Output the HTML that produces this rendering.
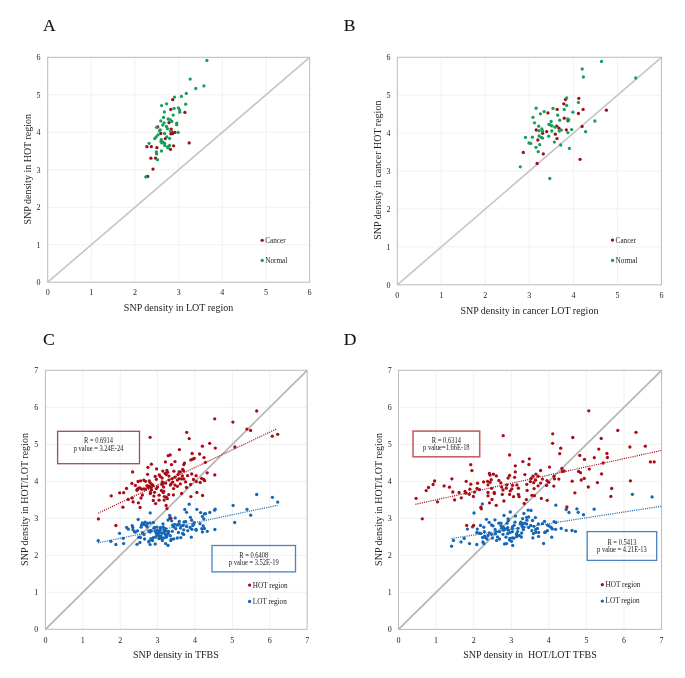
<!DOCTYPE html><html><head><meta charset="utf-8"><style>html,body{margin:0;padding:0;background:#fff;}svg{display:block;} .t{filter:grayscale(1);}</style></head><body><svg width="685" height="678" viewBox="0 0 685 678">
<rect width="685" height="678" fill="#fff"/>
<line x1="91.35" y1="57.32" x2="91.35" y2="282.20" stroke="#f1f1f1" stroke-width="1"/>
<line x1="47.70" y1="244.72" x2="309.60" y2="244.72" stroke="#f1f1f1" stroke-width="1"/>
<line x1="135.00" y1="57.32" x2="135.00" y2="282.20" stroke="#f1f1f1" stroke-width="1"/>
<line x1="47.70" y1="207.24" x2="309.60" y2="207.24" stroke="#f1f1f1" stroke-width="1"/>
<line x1="178.65" y1="57.32" x2="178.65" y2="282.20" stroke="#f1f1f1" stroke-width="1"/>
<line x1="47.70" y1="169.76" x2="309.60" y2="169.76" stroke="#f1f1f1" stroke-width="1"/>
<line x1="222.30" y1="57.32" x2="222.30" y2="282.20" stroke="#f1f1f1" stroke-width="1"/>
<line x1="47.70" y1="132.28" x2="309.60" y2="132.28" stroke="#f1f1f1" stroke-width="1"/>
<line x1="265.95" y1="57.32" x2="265.95" y2="282.20" stroke="#f1f1f1" stroke-width="1"/>
<line x1="47.70" y1="94.80" x2="309.60" y2="94.80" stroke="#f1f1f1" stroke-width="1"/>
<rect x="47.70" y="57.32" width="261.90" height="224.88" fill="none" stroke="#bebebe" stroke-width="1.05"/>
<line x1="47.70" y1="282.20" x2="309.60" y2="57.32" stroke="#c6c6c6" stroke-width="1.65"/>
<line x1="441.32" y1="57.28" x2="441.32" y2="284.80" stroke="#f1f1f1" stroke-width="1"/>
<line x1="397.30" y1="246.88" x2="661.42" y2="246.88" stroke="#f1f1f1" stroke-width="1"/>
<line x1="485.34" y1="57.28" x2="485.34" y2="284.80" stroke="#f1f1f1" stroke-width="1"/>
<line x1="397.30" y1="208.96" x2="661.42" y2="208.96" stroke="#f1f1f1" stroke-width="1"/>
<line x1="529.36" y1="57.28" x2="529.36" y2="284.80" stroke="#f1f1f1" stroke-width="1"/>
<line x1="397.30" y1="171.04" x2="661.42" y2="171.04" stroke="#f1f1f1" stroke-width="1"/>
<line x1="573.38" y1="57.28" x2="573.38" y2="284.80" stroke="#f1f1f1" stroke-width="1"/>
<line x1="397.30" y1="133.12" x2="661.42" y2="133.12" stroke="#f1f1f1" stroke-width="1"/>
<line x1="617.40" y1="57.28" x2="617.40" y2="284.80" stroke="#f1f1f1" stroke-width="1"/>
<line x1="397.30" y1="95.20" x2="661.42" y2="95.20" stroke="#f1f1f1" stroke-width="1"/>
<rect x="397.30" y="57.28" width="264.12" height="227.52" fill="none" stroke="#bebebe" stroke-width="1.05"/>
<line x1="397.30" y1="284.80" x2="661.42" y2="57.28" stroke="#c6c6c6" stroke-width="1.65"/>
<line x1="82.79" y1="370.30" x2="82.79" y2="629.30" stroke="#f1f1f1" stroke-width="1"/>
<line x1="45.40" y1="592.30" x2="307.13" y2="592.30" stroke="#f1f1f1" stroke-width="1"/>
<line x1="120.18" y1="370.30" x2="120.18" y2="629.30" stroke="#f1f1f1" stroke-width="1"/>
<line x1="45.40" y1="555.30" x2="307.13" y2="555.30" stroke="#f1f1f1" stroke-width="1"/>
<line x1="157.57" y1="370.30" x2="157.57" y2="629.30" stroke="#f1f1f1" stroke-width="1"/>
<line x1="45.40" y1="518.30" x2="307.13" y2="518.30" stroke="#f1f1f1" stroke-width="1"/>
<line x1="194.96" y1="370.30" x2="194.96" y2="629.30" stroke="#f1f1f1" stroke-width="1"/>
<line x1="45.40" y1="481.30" x2="307.13" y2="481.30" stroke="#f1f1f1" stroke-width="1"/>
<line x1="232.35" y1="370.30" x2="232.35" y2="629.30" stroke="#f1f1f1" stroke-width="1"/>
<line x1="45.40" y1="444.30" x2="307.13" y2="444.30" stroke="#f1f1f1" stroke-width="1"/>
<line x1="269.74" y1="370.30" x2="269.74" y2="629.30" stroke="#f1f1f1" stroke-width="1"/>
<line x1="45.40" y1="407.30" x2="307.13" y2="407.30" stroke="#f1f1f1" stroke-width="1"/>
<rect x="45.40" y="370.30" width="261.73" height="259.00" fill="none" stroke="#bebebe" stroke-width="1.05"/>
<line x1="45.40" y1="629.30" x2="307.13" y2="370.30" stroke="#b6b6b6" stroke-width="1.75"/>
<line x1="436.08" y1="370.33" x2="436.08" y2="629.40" stroke="#f1f1f1" stroke-width="1"/>
<line x1="398.50" y1="592.39" x2="661.56" y2="592.39" stroke="#f1f1f1" stroke-width="1"/>
<line x1="473.66" y1="370.33" x2="473.66" y2="629.40" stroke="#f1f1f1" stroke-width="1"/>
<line x1="398.50" y1="555.38" x2="661.56" y2="555.38" stroke="#f1f1f1" stroke-width="1"/>
<line x1="511.24" y1="370.33" x2="511.24" y2="629.40" stroke="#f1f1f1" stroke-width="1"/>
<line x1="398.50" y1="518.37" x2="661.56" y2="518.37" stroke="#f1f1f1" stroke-width="1"/>
<line x1="548.82" y1="370.33" x2="548.82" y2="629.40" stroke="#f1f1f1" stroke-width="1"/>
<line x1="398.50" y1="481.36" x2="661.56" y2="481.36" stroke="#f1f1f1" stroke-width="1"/>
<line x1="586.40" y1="370.33" x2="586.40" y2="629.40" stroke="#f1f1f1" stroke-width="1"/>
<line x1="398.50" y1="444.35" x2="661.56" y2="444.35" stroke="#f1f1f1" stroke-width="1"/>
<line x1="623.98" y1="370.33" x2="623.98" y2="629.40" stroke="#f1f1f1" stroke-width="1"/>
<line x1="398.50" y1="407.34" x2="661.56" y2="407.34" stroke="#f1f1f1" stroke-width="1"/>
<rect x="398.50" y="370.33" width="263.06" height="259.07" fill="none" stroke="#bebebe" stroke-width="1.05"/>
<line x1="398.50" y1="629.40" x2="661.56" y2="370.33" stroke="#b6b6b6" stroke-width="1.75"/>
<rect x="57.6" y="431.3" width="81.90" height="32.40" fill="none" stroke="#a84a4e" stroke-width="1.3"/>
<rect x="212.0" y="545.5" width="83.50" height="26.40" fill="none" stroke="#4a82c2" stroke-width="1.3"/>
<rect x="413.0" y="431.1" width="66.70" height="25.70" fill="none" stroke="#c86064" stroke-width="1.6"/>
<rect x="587.2" y="531.6" width="69.50" height="28.80" fill="none" stroke="#4a82c2" stroke-width="1.3"/>
<circle cx="172.7" cy="99.7" r="1.65" fill="#a00d16"/>
<circle cx="170.8" cy="109.4" r="1.65" fill="#a00d16"/>
<circle cx="184.9" cy="112.4" r="1.65" fill="#a00d16"/>
<circle cx="169.0" cy="122.7" r="1.65" fill="#a00d16"/>
<circle cx="157.7" cy="126.9" r="1.65" fill="#a00d16"/>
<circle cx="171.2" cy="129.1" r="1.65" fill="#a00d16"/>
<circle cx="171.9" cy="132.0" r="1.65" fill="#a00d16"/>
<circle cx="174.8" cy="132.4" r="1.65" fill="#a00d16"/>
<circle cx="172.6" cy="133.5" r="1.65" fill="#a00d16"/>
<circle cx="170.8" cy="133.8" r="1.65" fill="#a00d16"/>
<circle cx="160.8" cy="133.5" r="1.65" fill="#a00d16"/>
<circle cx="165.3" cy="138.6" r="1.65" fill="#a00d16"/>
<circle cx="189.2" cy="142.9" r="1.65" fill="#a00d16"/>
<circle cx="146.9" cy="146.7" r="1.65" fill="#a00d16"/>
<circle cx="151.3" cy="146.7" r="1.65" fill="#a00d16"/>
<circle cx="156.9" cy="147.7" r="1.65" fill="#a00d16"/>
<circle cx="173.6" cy="145.8" r="1.65" fill="#a00d16"/>
<circle cx="170.5" cy="149.3" r="1.65" fill="#a00d16"/>
<circle cx="150.9" cy="158.2" r="1.65" fill="#a00d16"/>
<circle cx="155.5" cy="158.1" r="1.65" fill="#a00d16"/>
<circle cx="153.0" cy="169.1" r="1.65" fill="#a00d16"/>
<circle cx="147.7" cy="176.4" r="1.65" fill="#a00d16"/>
<circle cx="206.9" cy="60.4" r="1.65" fill="#169e5c"/>
<circle cx="190.2" cy="79.1" r="1.65" fill="#169e5c"/>
<circle cx="203.9" cy="85.9" r="1.65" fill="#169e5c"/>
<circle cx="195.8" cy="88.5" r="1.65" fill="#169e5c"/>
<circle cx="186.3" cy="93.4" r="1.65" fill="#169e5c"/>
<circle cx="181.4" cy="96.4" r="1.65" fill="#169e5c"/>
<circle cx="174.5" cy="97.1" r="1.65" fill="#169e5c"/>
<circle cx="166.6" cy="103.8" r="1.65" fill="#169e5c"/>
<circle cx="161.6" cy="105.6" r="1.65" fill="#169e5c"/>
<circle cx="185.7" cy="104.2" r="1.65" fill="#169e5c"/>
<circle cx="174.1" cy="108.3" r="1.65" fill="#169e5c"/>
<circle cx="178.4" cy="107.9" r="1.65" fill="#169e5c"/>
<circle cx="179.7" cy="110.0" r="1.65" fill="#169e5c"/>
<circle cx="179.8" cy="112.2" r="1.65" fill="#169e5c"/>
<circle cx="164.4" cy="111.9" r="1.65" fill="#169e5c"/>
<circle cx="173.2" cy="115.1" r="1.65" fill="#169e5c"/>
<circle cx="163.5" cy="117.4" r="1.65" fill="#169e5c"/>
<circle cx="168.2" cy="119.0" r="1.65" fill="#169e5c"/>
<circle cx="170.4" cy="120.0" r="1.65" fill="#169e5c"/>
<circle cx="171.9" cy="121.4" r="1.65" fill="#169e5c"/>
<circle cx="160.8" cy="120.9" r="1.65" fill="#169e5c"/>
<circle cx="164.0" cy="122.9" r="1.65" fill="#169e5c"/>
<circle cx="162.8" cy="125.1" r="1.65" fill="#169e5c"/>
<circle cx="176.7" cy="123.1" r="1.65" fill="#169e5c"/>
<circle cx="176.7" cy="124.7" r="1.65" fill="#169e5c"/>
<circle cx="156.6" cy="127.3" r="1.65" fill="#169e5c"/>
<circle cx="166.4" cy="126.5" r="1.65" fill="#169e5c"/>
<circle cx="167.5" cy="128.7" r="1.65" fill="#169e5c"/>
<circle cx="160.2" cy="129.8" r="1.65" fill="#169e5c"/>
<circle cx="159.5" cy="130.9" r="1.65" fill="#169e5c"/>
<circle cx="170.4" cy="130.9" r="1.65" fill="#169e5c"/>
<circle cx="178.1" cy="132.4" r="1.65" fill="#169e5c"/>
<circle cx="164.6" cy="133.5" r="1.65" fill="#169e5c"/>
<circle cx="158.0" cy="134.9" r="1.65" fill="#169e5c"/>
<circle cx="156.2" cy="136.8" r="1.65" fill="#169e5c"/>
<circle cx="154.7" cy="138.6" r="1.65" fill="#169e5c"/>
<circle cx="166.8" cy="136.8" r="1.65" fill="#169e5c"/>
<circle cx="169.6" cy="138.4" r="1.65" fill="#169e5c"/>
<circle cx="161.3" cy="139.7" r="1.65" fill="#169e5c"/>
<circle cx="161.0" cy="141.5" r="1.65" fill="#169e5c"/>
<circle cx="163.1" cy="142.2" r="1.65" fill="#169e5c"/>
<circle cx="164.6" cy="143.3" r="1.65" fill="#169e5c"/>
<circle cx="149.1" cy="143.3" r="1.65" fill="#169e5c"/>
<circle cx="161.9" cy="142.9" r="1.65" fill="#169e5c"/>
<circle cx="164.8" cy="145.5" r="1.65" fill="#169e5c"/>
<circle cx="168.1" cy="146.6" r="1.65" fill="#169e5c"/>
<circle cx="169.6" cy="145.5" r="1.65" fill="#169e5c"/>
<circle cx="167.7" cy="147.7" r="1.65" fill="#169e5c"/>
<circle cx="161.5" cy="151.0" r="1.65" fill="#169e5c"/>
<circle cx="156.4" cy="152.0" r="1.65" fill="#169e5c"/>
<circle cx="156.6" cy="153.9" r="1.65" fill="#169e5c"/>
<circle cx="157.5" cy="159.7" r="1.65" fill="#169e5c"/>
<circle cx="145.8" cy="176.9" r="1.65" fill="#169e5c"/>
<circle cx="565.5" cy="99.5" r="1.65" fill="#a00d16"/>
<circle cx="578.8" cy="98.3" r="1.65" fill="#a00d16"/>
<circle cx="563.8" cy="103.8" r="1.65" fill="#a00d16"/>
<circle cx="583.1" cy="109.4" r="1.65" fill="#a00d16"/>
<circle cx="606.4" cy="110.2" r="1.65" fill="#a00d16"/>
<circle cx="578.4" cy="113.5" r="1.65" fill="#a00d16"/>
<circle cx="557.2" cy="109.4" r="1.65" fill="#a00d16"/>
<circle cx="547.9" cy="112.9" r="1.65" fill="#a00d16"/>
<circle cx="564.2" cy="118.2" r="1.65" fill="#a00d16"/>
<circle cx="568.0" cy="120.8" r="1.65" fill="#a00d16"/>
<circle cx="556.8" cy="126.1" r="1.65" fill="#a00d16"/>
<circle cx="559.0" cy="128.2" r="1.65" fill="#a00d16"/>
<circle cx="566.3" cy="129.8" r="1.65" fill="#a00d16"/>
<circle cx="536.2" cy="130.0" r="1.65" fill="#a00d16"/>
<circle cx="582.1" cy="126.5" r="1.65" fill="#a00d16"/>
<circle cx="537.9" cy="140.0" r="1.65" fill="#a00d16"/>
<circle cx="542.6" cy="133.3" r="1.65" fill="#a00d16"/>
<circle cx="546.7" cy="131.6" r="1.65" fill="#a00d16"/>
<circle cx="555.3" cy="134.2" r="1.65" fill="#a00d16"/>
<circle cx="557.0" cy="138.6" r="1.65" fill="#a00d16"/>
<circle cx="523.3" cy="152.4" r="1.65" fill="#a00d16"/>
<circle cx="543.3" cy="153.9" r="1.65" fill="#a00d16"/>
<circle cx="537.1" cy="163.5" r="1.65" fill="#a00d16"/>
<circle cx="580.1" cy="159.3" r="1.65" fill="#a00d16"/>
<circle cx="601.5" cy="61.4" r="1.65" fill="#169e5c"/>
<circle cx="582.2" cy="69.0" r="1.65" fill="#169e5c"/>
<circle cx="583.4" cy="77.0" r="1.65" fill="#169e5c"/>
<circle cx="635.7" cy="78.0" r="1.65" fill="#169e5c"/>
<circle cx="566.7" cy="98.0" r="1.65" fill="#169e5c"/>
<circle cx="578.4" cy="102.4" r="1.65" fill="#169e5c"/>
<circle cx="566.6" cy="105.4" r="1.65" fill="#169e5c"/>
<circle cx="564.2" cy="109.4" r="1.65" fill="#169e5c"/>
<circle cx="572.9" cy="112.2" r="1.65" fill="#169e5c"/>
<circle cx="536.1" cy="108.2" r="1.65" fill="#169e5c"/>
<circle cx="553.0" cy="108.4" r="1.65" fill="#169e5c"/>
<circle cx="544.1" cy="111.6" r="1.65" fill="#169e5c"/>
<circle cx="540.4" cy="113.8" r="1.65" fill="#169e5c"/>
<circle cx="557.7" cy="115.2" r="1.65" fill="#169e5c"/>
<circle cx="533.0" cy="117.3" r="1.65" fill="#169e5c"/>
<circle cx="559.7" cy="120.2" r="1.65" fill="#169e5c"/>
<circle cx="567.7" cy="118.9" r="1.65" fill="#169e5c"/>
<circle cx="568.8" cy="119.8" r="1.65" fill="#169e5c"/>
<circle cx="534.5" cy="122.8" r="1.65" fill="#169e5c"/>
<circle cx="551.1" cy="121.5" r="1.65" fill="#169e5c"/>
<circle cx="548.9" cy="124.3" r="1.65" fill="#169e5c"/>
<circle cx="550.2" cy="125.0" r="1.65" fill="#169e5c"/>
<circle cx="552.0" cy="125.9" r="1.65" fill="#169e5c"/>
<circle cx="555.0" cy="127.2" r="1.65" fill="#169e5c"/>
<circle cx="538.7" cy="126.2" r="1.65" fill="#169e5c"/>
<circle cx="541.9" cy="129.0" r="1.65" fill="#169e5c"/>
<circle cx="571.6" cy="129.6" r="1.65" fill="#169e5c"/>
<circle cx="594.9" cy="121.0" r="1.65" fill="#169e5c"/>
<circle cx="561.3" cy="130.1" r="1.65" fill="#169e5c"/>
<circle cx="567.8" cy="132.6" r="1.65" fill="#169e5c"/>
<circle cx="585.6" cy="131.7" r="1.65" fill="#169e5c"/>
<circle cx="560.7" cy="145.0" r="1.65" fill="#169e5c"/>
<circle cx="569.4" cy="148.4" r="1.65" fill="#169e5c"/>
<circle cx="539.1" cy="130.7" r="1.65" fill="#169e5c"/>
<circle cx="539.1" cy="135.9" r="1.65" fill="#169e5c"/>
<circle cx="525.5" cy="137.4" r="1.65" fill="#169e5c"/>
<circle cx="532.4" cy="137.2" r="1.65" fill="#169e5c"/>
<circle cx="542.6" cy="131.1" r="1.65" fill="#169e5c"/>
<circle cx="551.8" cy="131.0" r="1.65" fill="#169e5c"/>
<circle cx="559.2" cy="131.1" r="1.65" fill="#169e5c"/>
<circle cx="541.3" cy="137.3" r="1.65" fill="#169e5c"/>
<circle cx="542.6" cy="138.1" r="1.65" fill="#169e5c"/>
<circle cx="548.7" cy="136.2" r="1.65" fill="#169e5c"/>
<circle cx="529.0" cy="143.0" r="1.65" fill="#169e5c"/>
<circle cx="530.8" cy="143.4" r="1.65" fill="#169e5c"/>
<circle cx="539.7" cy="144.7" r="1.65" fill="#169e5c"/>
<circle cx="536.0" cy="147.3" r="1.65" fill="#169e5c"/>
<circle cx="554.4" cy="142.1" r="1.65" fill="#169e5c"/>
<circle cx="538.2" cy="151.7" r="1.65" fill="#169e5c"/>
<circle cx="520.3" cy="166.8" r="1.65" fill="#169e5c"/>
<circle cx="549.8" cy="178.5" r="1.65" fill="#169e5c"/>
<circle cx="150.2" cy="512.9" r="1.65" fill="#1566b5"/>
<circle cx="189.2" cy="504.2" r="1.65" fill="#1566b5"/>
<circle cx="184.8" cy="509.5" r="1.65" fill="#1566b5"/>
<circle cx="233.1" cy="505.4" r="1.65" fill="#1566b5"/>
<circle cx="196.9" cy="509.3" r="1.65" fill="#1566b5"/>
<circle cx="215.2" cy="509.1" r="1.65" fill="#1566b5"/>
<circle cx="126.6" cy="527.4" r="1.65" fill="#1566b5"/>
<circle cx="128.3" cy="529.2" r="1.65" fill="#1566b5"/>
<circle cx="132.2" cy="525.6" r="1.65" fill="#1566b5"/>
<circle cx="132.8" cy="527.4" r="1.65" fill="#1566b5"/>
<circle cx="133.1" cy="529.8" r="1.65" fill="#1566b5"/>
<circle cx="134.5" cy="531.8" r="1.65" fill="#1566b5"/>
<circle cx="119.5" cy="533.3" r="1.65" fill="#1566b5"/>
<circle cx="123.2" cy="538.3" r="1.65" fill="#1566b5"/>
<circle cx="98.2" cy="540.7" r="1.65" fill="#1566b5"/>
<circle cx="110.9" cy="541.3" r="1.65" fill="#1566b5"/>
<circle cx="123.6" cy="543.6" r="1.65" fill="#1566b5"/>
<circle cx="115.9" cy="544.5" r="1.65" fill="#1566b5"/>
<circle cx="138.2" cy="519.4" r="1.65" fill="#1566b5"/>
<circle cx="142.3" cy="522.8" r="1.65" fill="#1566b5"/>
<circle cx="145.2" cy="522.2" r="1.65" fill="#1566b5"/>
<circle cx="147.5" cy="523.4" r="1.65" fill="#1566b5"/>
<circle cx="150.1" cy="522.8" r="1.65" fill="#1566b5"/>
<circle cx="153.4" cy="522.5" r="1.65" fill="#1566b5"/>
<circle cx="141.4" cy="525.1" r="1.65" fill="#1566b5"/>
<circle cx="144.0" cy="524.5" r="1.65" fill="#1566b5"/>
<circle cx="146.4" cy="525.7" r="1.65" fill="#1566b5"/>
<circle cx="147.2" cy="526.9" r="1.65" fill="#1566b5"/>
<circle cx="141.1" cy="527.2" r="1.65" fill="#1566b5"/>
<circle cx="163.0" cy="524.0" r="1.65" fill="#1566b5"/>
<circle cx="168.0" cy="520.1" r="1.65" fill="#1566b5"/>
<circle cx="169.4" cy="518.7" r="1.65" fill="#1566b5"/>
<circle cx="169.7" cy="515.5" r="1.65" fill="#1566b5"/>
<circle cx="154.5" cy="527.4" r="1.65" fill="#1566b5"/>
<circle cx="156.9" cy="527.2" r="1.65" fill="#1566b5"/>
<circle cx="160.4" cy="527.4" r="1.65" fill="#1566b5"/>
<circle cx="163.3" cy="527.2" r="1.65" fill="#1566b5"/>
<circle cx="165.6" cy="528.6" r="1.65" fill="#1566b5"/>
<circle cx="135.5" cy="532.0" r="1.65" fill="#1566b5"/>
<circle cx="137.6" cy="530.8" r="1.65" fill="#1566b5"/>
<circle cx="142.3" cy="532.6" r="1.65" fill="#1566b5"/>
<circle cx="144.0" cy="534.6" r="1.65" fill="#1566b5"/>
<circle cx="138.8" cy="537.3" r="1.65" fill="#1566b5"/>
<circle cx="140.5" cy="537.6" r="1.65" fill="#1566b5"/>
<circle cx="144.6" cy="539.0" r="1.65" fill="#1566b5"/>
<circle cx="139.9" cy="542.5" r="1.65" fill="#1566b5"/>
<circle cx="137.0" cy="544.3" r="1.65" fill="#1566b5"/>
<circle cx="148.7" cy="530.8" r="1.65" fill="#1566b5"/>
<circle cx="150.1" cy="532.0" r="1.65" fill="#1566b5"/>
<circle cx="151.0" cy="530.5" r="1.65" fill="#1566b5"/>
<circle cx="153.9" cy="528.2" r="1.65" fill="#1566b5"/>
<circle cx="157.4" cy="530.3" r="1.65" fill="#1566b5"/>
<circle cx="156.3" cy="533.2" r="1.65" fill="#1566b5"/>
<circle cx="159.2" cy="532.0" r="1.65" fill="#1566b5"/>
<circle cx="160.4" cy="528.5" r="1.65" fill="#1566b5"/>
<circle cx="163.9" cy="529.7" r="1.65" fill="#1566b5"/>
<circle cx="166.2" cy="530.8" r="1.65" fill="#1566b5"/>
<circle cx="168.5" cy="531.4" r="1.65" fill="#1566b5"/>
<circle cx="161.8" cy="533.2" r="1.65" fill="#1566b5"/>
<circle cx="165.0" cy="533.8" r="1.65" fill="#1566b5"/>
<circle cx="167.4" cy="534.3" r="1.65" fill="#1566b5"/>
<circle cx="158.6" cy="535.5" r="1.65" fill="#1566b5"/>
<circle cx="160.4" cy="537.3" r="1.65" fill="#1566b5"/>
<circle cx="166.2" cy="537.3" r="1.65" fill="#1566b5"/>
<circle cx="155.7" cy="537.0" r="1.65" fill="#1566b5"/>
<circle cx="153.4" cy="537.6" r="1.65" fill="#1566b5"/>
<circle cx="151.0" cy="538.7" r="1.65" fill="#1566b5"/>
<circle cx="152.5" cy="540.5" r="1.65" fill="#1566b5"/>
<circle cx="149.3" cy="540.8" r="1.65" fill="#1566b5"/>
<circle cx="148.7" cy="541.9" r="1.65" fill="#1566b5"/>
<circle cx="162.4" cy="540.5" r="1.65" fill="#1566b5"/>
<circle cx="150.1" cy="544.6" r="1.65" fill="#1566b5"/>
<circle cx="155.2" cy="544.0" r="1.65" fill="#1566b5"/>
<circle cx="165.6" cy="543.6" r="1.65" fill="#1566b5"/>
<circle cx="168.0" cy="545.4" r="1.65" fill="#1566b5"/>
<circle cx="186.6" cy="512.3" r="1.65" fill="#1566b5"/>
<circle cx="200.6" cy="512.6" r="1.65" fill="#1566b5"/>
<circle cx="204.4" cy="513.8" r="1.65" fill="#1566b5"/>
<circle cx="175.2" cy="517.9" r="1.65" fill="#1566b5"/>
<circle cx="171.7" cy="520.8" r="1.65" fill="#1566b5"/>
<circle cx="190.4" cy="517.3" r="1.65" fill="#1566b5"/>
<circle cx="191.6" cy="520.2" r="1.65" fill="#1566b5"/>
<circle cx="202.4" cy="516.4" r="1.65" fill="#1566b5"/>
<circle cx="203.8" cy="518.8" r="1.65" fill="#1566b5"/>
<circle cx="179.3" cy="521.4" r="1.65" fill="#1566b5"/>
<circle cx="184.0" cy="522.0" r="1.65" fill="#1566b5"/>
<circle cx="185.7" cy="521.7" r="1.65" fill="#1566b5"/>
<circle cx="194.2" cy="522.6" r="1.65" fill="#1566b5"/>
<circle cx="193.6" cy="524.3" r="1.65" fill="#1566b5"/>
<circle cx="200.0" cy="523.7" r="1.65" fill="#1566b5"/>
<circle cx="172.6" cy="525.2" r="1.65" fill="#1566b5"/>
<circle cx="174.6" cy="524.3" r="1.65" fill="#1566b5"/>
<circle cx="177.3" cy="524.9" r="1.65" fill="#1566b5"/>
<circle cx="179.0" cy="524.0" r="1.65" fill="#1566b5"/>
<circle cx="181.1" cy="525.8" r="1.65" fill="#1566b5"/>
<circle cx="183.1" cy="525.5" r="1.65" fill="#1566b5"/>
<circle cx="186.6" cy="526.4" r="1.65" fill="#1566b5"/>
<circle cx="192.7" cy="525.5" r="1.65" fill="#1566b5"/>
<circle cx="203.2" cy="525.8" r="1.65" fill="#1566b5"/>
<circle cx="173.8" cy="526.9" r="1.65" fill="#1566b5"/>
<circle cx="175.8" cy="528.7" r="1.65" fill="#1566b5"/>
<circle cx="180.5" cy="528.1" r="1.65" fill="#1566b5"/>
<circle cx="183.7" cy="529.9" r="1.65" fill="#1566b5"/>
<circle cx="190.1" cy="527.5" r="1.65" fill="#1566b5"/>
<circle cx="191.9" cy="529.3" r="1.65" fill="#1566b5"/>
<circle cx="196.0" cy="529.3" r="1.65" fill="#1566b5"/>
<circle cx="201.8" cy="528.7" r="1.65" fill="#1566b5"/>
<circle cx="168.5" cy="532.8" r="1.65" fill="#1566b5"/>
<circle cx="172.3" cy="531.3" r="1.65" fill="#1566b5"/>
<circle cx="187.8" cy="530.7" r="1.65" fill="#1566b5"/>
<circle cx="178.4" cy="532.5" r="1.65" fill="#1566b5"/>
<circle cx="202.4" cy="531.9" r="1.65" fill="#1566b5"/>
<circle cx="170.3" cy="535.7" r="1.65" fill="#1566b5"/>
<circle cx="166.8" cy="536.3" r="1.65" fill="#1566b5"/>
<circle cx="182.5" cy="533.4" r="1.65" fill="#1566b5"/>
<circle cx="183.7" cy="534.5" r="1.65" fill="#1566b5"/>
<circle cx="191.3" cy="537.2" r="1.65" fill="#1566b5"/>
<circle cx="177.3" cy="538.0" r="1.65" fill="#1566b5"/>
<circle cx="180.8" cy="537.7" r="1.65" fill="#1566b5"/>
<circle cx="173.8" cy="538.9" r="1.65" fill="#1566b5"/>
<circle cx="171.4" cy="539.2" r="1.65" fill="#1566b5"/>
<circle cx="214.6" cy="510.2" r="1.65" fill="#1566b5"/>
<circle cx="209.8" cy="512.4" r="1.65" fill="#1566b5"/>
<circle cx="205.5" cy="513.7" r="1.65" fill="#1566b5"/>
<circle cx="234.7" cy="522.5" r="1.65" fill="#1566b5"/>
<circle cx="214.9" cy="529.5" r="1.65" fill="#1566b5"/>
<circle cx="204.4" cy="528.5" r="1.65" fill="#1566b5"/>
<circle cx="207.3" cy="531.3" r="1.65" fill="#1566b5"/>
<circle cx="170.8" cy="540.5" r="1.65" fill="#1566b5"/>
<circle cx="161.2" cy="538.2" r="1.65" fill="#1566b5"/>
<circle cx="196.2" cy="530.3" r="1.65" fill="#1566b5"/>
<circle cx="256.7" cy="494.5" r="1.65" fill="#1566b5"/>
<circle cx="272.4" cy="497.3" r="1.65" fill="#1566b5"/>
<circle cx="277.7" cy="502.1" r="1.65" fill="#1566b5"/>
<circle cx="247.0" cy="509.3" r="1.65" fill="#1566b5"/>
<circle cx="250.7" cy="515.2" r="1.65" fill="#1566b5"/>
<circle cx="160.0" cy="531.0" r="1.65" fill="#1566b5"/>
<circle cx="164.0" cy="532.0" r="1.65" fill="#1566b5"/>
<circle cx="158.0" cy="533.5" r="1.65" fill="#1566b5"/>
<circle cx="161.0" cy="536.0" r="1.65" fill="#1566b5"/>
<circle cx="163.5" cy="538.0" r="1.65" fill="#1566b5"/>
<circle cx="159.0" cy="538.5" r="1.65" fill="#1566b5"/>
<circle cx="166.0" cy="535.5" r="1.65" fill="#1566b5"/>
<circle cx="157.0" cy="535.0" r="1.65" fill="#1566b5"/>
<circle cx="155.0" cy="531.0" r="1.65" fill="#1566b5"/>
<circle cx="132.6" cy="471.9" r="1.65" fill="#aa0c17"/>
<circle cx="138.1" cy="481.5" r="1.65" fill="#aa0c17"/>
<circle cx="140.6" cy="480.8" r="1.65" fill="#aa0c17"/>
<circle cx="143.8" cy="480.1" r="1.65" fill="#aa0c17"/>
<circle cx="131.9" cy="483.4" r="1.65" fill="#aa0c17"/>
<circle cx="135.4" cy="485.4" r="1.65" fill="#aa0c17"/>
<circle cx="126.5" cy="488.5" r="1.65" fill="#aa0c17"/>
<circle cx="119.7" cy="492.8" r="1.65" fill="#aa0c17"/>
<circle cx="123.7" cy="492.7" r="1.65" fill="#aa0c17"/>
<circle cx="111.2" cy="495.8" r="1.65" fill="#aa0c17"/>
<circle cx="137.3" cy="489.2" r="1.65" fill="#aa0c17"/>
<circle cx="138.8" cy="488.1" r="1.65" fill="#aa0c17"/>
<circle cx="137.0" cy="490.3" r="1.65" fill="#aa0c17"/>
<circle cx="141.7" cy="489.2" r="1.65" fill="#aa0c17"/>
<circle cx="143.9" cy="488.8" r="1.65" fill="#aa0c17"/>
<circle cx="142.4" cy="495.0" r="1.65" fill="#aa0c17"/>
<circle cx="141.0" cy="498.0" r="1.65" fill="#aa0c17"/>
<circle cx="132.2" cy="498.0" r="1.65" fill="#aa0c17"/>
<circle cx="128.2" cy="499.4" r="1.65" fill="#aa0c17"/>
<circle cx="150.1" cy="437.3" r="1.65" fill="#aa0c17"/>
<circle cx="186.7" cy="432.3" r="1.65" fill="#aa0c17"/>
<circle cx="189.2" cy="438.6" r="1.65" fill="#aa0c17"/>
<circle cx="179.4" cy="449.6" r="1.65" fill="#aa0c17"/>
<circle cx="170.2" cy="454.9" r="1.65" fill="#aa0c17"/>
<circle cx="168.2" cy="455.7" r="1.65" fill="#aa0c17"/>
<circle cx="192.1" cy="453.5" r="1.65" fill="#aa0c17"/>
<circle cx="199.6" cy="454.0" r="1.65" fill="#aa0c17"/>
<circle cx="194.3" cy="458.3" r="1.65" fill="#aa0c17"/>
<circle cx="192.6" cy="459.2" r="1.65" fill="#aa0c17"/>
<circle cx="190.8" cy="459.9" r="1.65" fill="#aa0c17"/>
<circle cx="165.4" cy="461.9" r="1.65" fill="#aa0c17"/>
<circle cx="175.0" cy="461.6" r="1.65" fill="#aa0c17"/>
<circle cx="184.5" cy="463.1" r="1.65" fill="#aa0c17"/>
<circle cx="151.4" cy="464.2" r="1.65" fill="#aa0c17"/>
<circle cx="171.5" cy="464.7" r="1.65" fill="#aa0c17"/>
<circle cx="214.7" cy="418.8" r="1.65" fill="#aa0c17"/>
<circle cx="232.9" cy="422.1" r="1.65" fill="#aa0c17"/>
<circle cx="246.9" cy="429.1" r="1.65" fill="#aa0c17"/>
<circle cx="250.6" cy="430.4" r="1.65" fill="#aa0c17"/>
<circle cx="209.7" cy="443.3" r="1.65" fill="#aa0c17"/>
<circle cx="202.4" cy="446.2" r="1.65" fill="#aa0c17"/>
<circle cx="215.3" cy="448.1" r="1.65" fill="#aa0c17"/>
<circle cx="234.9" cy="447.0" r="1.65" fill="#aa0c17"/>
<circle cx="256.7" cy="411.0" r="1.65" fill="#aa0c17"/>
<circle cx="272.3" cy="436.2" r="1.65" fill="#aa0c17"/>
<circle cx="277.7" cy="434.3" r="1.65" fill="#aa0c17"/>
<circle cx="147.9" cy="467.3" r="1.65" fill="#aa0c17"/>
<circle cx="156.6" cy="468.9" r="1.65" fill="#aa0c17"/>
<circle cx="162.8" cy="471.1" r="1.65" fill="#aa0c17"/>
<circle cx="166.9" cy="470.5" r="1.65" fill="#aa0c17"/>
<circle cx="167.7" cy="472.3" r="1.65" fill="#aa0c17"/>
<circle cx="165.1" cy="473.4" r="1.65" fill="#aa0c17"/>
<circle cx="166.3" cy="474.6" r="1.65" fill="#aa0c17"/>
<circle cx="173.9" cy="471.2" r="1.65" fill="#aa0c17"/>
<circle cx="179.1" cy="472.0" r="1.65" fill="#aa0c17"/>
<circle cx="147.6" cy="474.3" r="1.65" fill="#aa0c17"/>
<circle cx="155.2" cy="476.4" r="1.65" fill="#aa0c17"/>
<circle cx="159.3" cy="474.9" r="1.65" fill="#aa0c17"/>
<circle cx="160.4" cy="476.6" r="1.65" fill="#aa0c17"/>
<circle cx="162.2" cy="478.1" r="1.65" fill="#aa0c17"/>
<circle cx="156.4" cy="479.3" r="1.65" fill="#aa0c17"/>
<circle cx="168.9" cy="476.1" r="1.65" fill="#aa0c17"/>
<circle cx="175.0" cy="477.2" r="1.65" fill="#aa0c17"/>
<circle cx="172.1" cy="478.6" r="1.65" fill="#aa0c17"/>
<circle cx="178.0" cy="474.6" r="1.65" fill="#aa0c17"/>
<circle cx="177.4" cy="480.1" r="1.65" fill="#aa0c17"/>
<circle cx="179.1" cy="478.7" r="1.65" fill="#aa0c17"/>
<circle cx="168.9" cy="480.1" r="1.65" fill="#aa0c17"/>
<circle cx="145.5" cy="481.3" r="1.65" fill="#aa0c17"/>
<circle cx="149.3" cy="481.0" r="1.65" fill="#aa0c17"/>
<circle cx="150.2" cy="482.8" r="1.65" fill="#aa0c17"/>
<circle cx="152.0" cy="484.5" r="1.65" fill="#aa0c17"/>
<circle cx="153.1" cy="485.7" r="1.65" fill="#aa0c17"/>
<circle cx="162.2" cy="481.9" r="1.65" fill="#aa0c17"/>
<circle cx="163.4" cy="483.1" r="1.65" fill="#aa0c17"/>
<circle cx="165.7" cy="483.1" r="1.65" fill="#aa0c17"/>
<circle cx="161.9" cy="484.5" r="1.65" fill="#aa0c17"/>
<circle cx="172.7" cy="482.2" r="1.65" fill="#aa0c17"/>
<circle cx="171.0" cy="484.0" r="1.65" fill="#aa0c17"/>
<circle cx="170.4" cy="485.1" r="1.65" fill="#aa0c17"/>
<circle cx="175.0" cy="485.1" r="1.65" fill="#aa0c17"/>
<circle cx="177.4" cy="486.3" r="1.65" fill="#aa0c17"/>
<circle cx="147.0" cy="485.7" r="1.65" fill="#aa0c17"/>
<circle cx="148.2" cy="487.4" r="1.65" fill="#aa0c17"/>
<circle cx="150.5" cy="487.2" r="1.65" fill="#aa0c17"/>
<circle cx="145.3" cy="489.2" r="1.65" fill="#aa0c17"/>
<circle cx="157.5" cy="486.9" r="1.65" fill="#aa0c17"/>
<circle cx="156.4" cy="488.6" r="1.65" fill="#aa0c17"/>
<circle cx="163.6" cy="487.0" r="1.65" fill="#aa0c17"/>
<circle cx="173.6" cy="488.6" r="1.65" fill="#aa0c17"/>
<circle cx="204.0" cy="457.6" r="1.65" fill="#aa0c17"/>
<circle cx="205.4" cy="462.3" r="1.65" fill="#aa0c17"/>
<circle cx="183.8" cy="464.6" r="1.65" fill="#aa0c17"/>
<circle cx="182.7" cy="469.3" r="1.65" fill="#aa0c17"/>
<circle cx="183.5" cy="470.8" r="1.65" fill="#aa0c17"/>
<circle cx="180.3" cy="471.9" r="1.65" fill="#aa0c17"/>
<circle cx="191.7" cy="474.0" r="1.65" fill="#aa0c17"/>
<circle cx="187.6" cy="475.7" r="1.65" fill="#aa0c17"/>
<circle cx="196.1" cy="475.7" r="1.65" fill="#aa0c17"/>
<circle cx="207.2" cy="472.8" r="1.65" fill="#aa0c17"/>
<circle cx="214.8" cy="474.9" r="1.65" fill="#aa0c17"/>
<circle cx="182.4" cy="476.0" r="1.65" fill="#aa0c17"/>
<circle cx="181.5" cy="478.9" r="1.65" fill="#aa0c17"/>
<circle cx="183.8" cy="478.9" r="1.65" fill="#aa0c17"/>
<circle cx="185.6" cy="481.9" r="1.65" fill="#aa0c17"/>
<circle cx="193.5" cy="479.5" r="1.65" fill="#aa0c17"/>
<circle cx="196.4" cy="481.6" r="1.65" fill="#aa0c17"/>
<circle cx="201.6" cy="478.4" r="1.65" fill="#aa0c17"/>
<circle cx="203.7" cy="479.5" r="1.65" fill="#aa0c17"/>
<circle cx="204.6" cy="480.7" r="1.65" fill="#aa0c17"/>
<circle cx="200.2" cy="482.4" r="1.65" fill="#aa0c17"/>
<circle cx="180.3" cy="483.9" r="1.65" fill="#aa0c17"/>
<circle cx="190.6" cy="484.5" r="1.65" fill="#aa0c17"/>
<circle cx="139.9" cy="487.9" r="1.65" fill="#aa0c17"/>
<circle cx="149.2" cy="486.2" r="1.65" fill="#aa0c17"/>
<circle cx="151.5" cy="489.7" r="1.65" fill="#aa0c17"/>
<circle cx="150.4" cy="492.0" r="1.65" fill="#aa0c17"/>
<circle cx="150.4" cy="493.5" r="1.65" fill="#aa0c17"/>
<circle cx="154.5" cy="492.3" r="1.65" fill="#aa0c17"/>
<circle cx="133.1" cy="501.9" r="1.65" fill="#aa0c17"/>
<circle cx="138.4" cy="502.8" r="1.65" fill="#aa0c17"/>
<circle cx="122.9" cy="507.2" r="1.65" fill="#aa0c17"/>
<circle cx="140.1" cy="507.5" r="1.65" fill="#aa0c17"/>
<circle cx="153.9" cy="496.1" r="1.65" fill="#aa0c17"/>
<circle cx="153.3" cy="500.5" r="1.65" fill="#aa0c17"/>
<circle cx="155.6" cy="503.6" r="1.65" fill="#aa0c17"/>
<circle cx="159.1" cy="495.2" r="1.65" fill="#aa0c17"/>
<circle cx="159.1" cy="500.2" r="1.65" fill="#aa0c17"/>
<circle cx="186.5" cy="487.5" r="1.65" fill="#aa0c17"/>
<circle cx="161.4" cy="490.5" r="1.65" fill="#aa0c17"/>
<circle cx="163.8" cy="491.4" r="1.65" fill="#aa0c17"/>
<circle cx="163.2" cy="492.6" r="1.65" fill="#aa0c17"/>
<circle cx="168.7" cy="494.6" r="1.65" fill="#aa0c17"/>
<circle cx="164.3" cy="496.6" r="1.65" fill="#aa0c17"/>
<circle cx="166.4" cy="497.2" r="1.65" fill="#aa0c17"/>
<circle cx="167.3" cy="498.7" r="1.65" fill="#aa0c17"/>
<circle cx="173.4" cy="494.9" r="1.65" fill="#aa0c17"/>
<circle cx="181.6" cy="493.5" r="1.65" fill="#aa0c17"/>
<circle cx="190.9" cy="496.6" r="1.65" fill="#aa0c17"/>
<circle cx="164.1" cy="500.1" r="1.65" fill="#aa0c17"/>
<circle cx="166.1" cy="505.4" r="1.65" fill="#aa0c17"/>
<circle cx="167.0" cy="508.6" r="1.65" fill="#aa0c17"/>
<circle cx="196.9" cy="492.5" r="1.65" fill="#aa0c17"/>
<circle cx="202.6" cy="495.5" r="1.65" fill="#aa0c17"/>
<circle cx="98.4" cy="518.9" r="1.65" fill="#aa0c17"/>
<circle cx="115.9" cy="525.5" r="1.65" fill="#aa0c17"/>
<circle cx="170.8" cy="518.2" r="1.65" fill="#aa0c17"/>
<circle cx="482.4" cy="503.9" r="1.65" fill="#1566b5"/>
<circle cx="474.0" cy="513.0" r="1.65" fill="#1566b5"/>
<circle cx="504.0" cy="515.4" r="1.65" fill="#1566b5"/>
<circle cx="486.4" cy="519.3" r="1.65" fill="#1566b5"/>
<circle cx="495.0" cy="519.8" r="1.65" fill="#1566b5"/>
<circle cx="489.2" cy="522.3" r="1.65" fill="#1566b5"/>
<circle cx="491.5" cy="525.0" r="1.65" fill="#1566b5"/>
<circle cx="493.0" cy="525.8" r="1.65" fill="#1566b5"/>
<circle cx="498.8" cy="523.2" r="1.65" fill="#1566b5"/>
<circle cx="501.0" cy="523.2" r="1.65" fill="#1566b5"/>
<circle cx="501.0" cy="525.8" r="1.65" fill="#1566b5"/>
<circle cx="503.2" cy="527.2" r="1.65" fill="#1566b5"/>
<circle cx="480.5" cy="525.4" r="1.65" fill="#1566b5"/>
<circle cx="483.8" cy="527.2" r="1.65" fill="#1566b5"/>
<circle cx="472.5" cy="526.9" r="1.65" fill="#1566b5"/>
<circle cx="467.4" cy="529.1" r="1.65" fill="#1566b5"/>
<circle cx="477.3" cy="529.1" r="1.65" fill="#1566b5"/>
<circle cx="495.1" cy="529.4" r="1.65" fill="#1566b5"/>
<circle cx="476.8" cy="532.5" r="1.65" fill="#1566b5"/>
<circle cx="479.4" cy="533.1" r="1.65" fill="#1566b5"/>
<circle cx="464.2" cy="538.4" r="1.65" fill="#1566b5"/>
<circle cx="453.4" cy="540.4" r="1.65" fill="#1566b5"/>
<circle cx="461.0" cy="541.9" r="1.65" fill="#1566b5"/>
<circle cx="469.5" cy="543.6" r="1.65" fill="#1566b5"/>
<circle cx="476.8" cy="544.5" r="1.65" fill="#1566b5"/>
<circle cx="507.1" cy="523.2" r="1.65" fill="#1566b5"/>
<circle cx="508.3" cy="520.6" r="1.65" fill="#1566b5"/>
<circle cx="480.5" cy="533.4" r="1.65" fill="#1566b5"/>
<circle cx="484.3" cy="531.7" r="1.65" fill="#1566b5"/>
<circle cx="496.0" cy="531.7" r="1.65" fill="#1566b5"/>
<circle cx="501.9" cy="528.2" r="1.65" fill="#1566b5"/>
<circle cx="499.5" cy="531.7" r="1.65" fill="#1566b5"/>
<circle cx="503.6" cy="530.2" r="1.65" fill="#1566b5"/>
<circle cx="505.4" cy="528.8" r="1.65" fill="#1566b5"/>
<circle cx="507.7" cy="527.6" r="1.65" fill="#1566b5"/>
<circle cx="508.3" cy="530.2" r="1.65" fill="#1566b5"/>
<circle cx="512.4" cy="527.0" r="1.65" fill="#1566b5"/>
<circle cx="514.1" cy="525.3" r="1.65" fill="#1566b5"/>
<circle cx="510.0" cy="532.6" r="1.65" fill="#1566b5"/>
<circle cx="512.4" cy="531.7" r="1.65" fill="#1566b5"/>
<circle cx="503.0" cy="534.3" r="1.65" fill="#1566b5"/>
<circle cx="507.7" cy="533.7" r="1.65" fill="#1566b5"/>
<circle cx="495.4" cy="533.7" r="1.65" fill="#1566b5"/>
<circle cx="489.3" cy="532.8" r="1.65" fill="#1566b5"/>
<circle cx="491.6" cy="534.3" r="1.65" fill="#1566b5"/>
<circle cx="488.1" cy="535.5" r="1.65" fill="#1566b5"/>
<circle cx="484.6" cy="536.1" r="1.65" fill="#1566b5"/>
<circle cx="482.6" cy="537.5" r="1.65" fill="#1566b5"/>
<circle cx="485.5" cy="537.5" r="1.65" fill="#1566b5"/>
<circle cx="487.0" cy="539.0" r="1.65" fill="#1566b5"/>
<circle cx="492.5" cy="538.1" r="1.65" fill="#1566b5"/>
<circle cx="497.5" cy="536.9" r="1.65" fill="#1566b5"/>
<circle cx="499.5" cy="539.0" r="1.65" fill="#1566b5"/>
<circle cx="496.6" cy="540.4" r="1.65" fill="#1566b5"/>
<circle cx="506.0" cy="537.2" r="1.65" fill="#1566b5"/>
<circle cx="510.0" cy="538.4" r="1.65" fill="#1566b5"/>
<circle cx="512.4" cy="537.8" r="1.65" fill="#1566b5"/>
<circle cx="509.5" cy="540.1" r="1.65" fill="#1566b5"/>
<circle cx="511.5" cy="541.3" r="1.65" fill="#1566b5"/>
<circle cx="482.9" cy="541.9" r="1.65" fill="#1566b5"/>
<circle cx="483.8" cy="543.6" r="1.65" fill="#1566b5"/>
<circle cx="504.5" cy="543.9" r="1.65" fill="#1566b5"/>
<circle cx="506.5" cy="543.6" r="1.65" fill="#1566b5"/>
<circle cx="512.7" cy="545.4" r="1.65" fill="#1566b5"/>
<circle cx="510.3" cy="512.0" r="1.65" fill="#1566b5"/>
<circle cx="528.1" cy="510.1" r="1.65" fill="#1566b5"/>
<circle cx="531.0" cy="510.5" r="1.65" fill="#1566b5"/>
<circle cx="523.9" cy="513.5" r="1.65" fill="#1566b5"/>
<circle cx="515.5" cy="516.1" r="1.65" fill="#1566b5"/>
<circle cx="526.6" cy="517.3" r="1.65" fill="#1566b5"/>
<circle cx="528.7" cy="517.0" r="1.65" fill="#1566b5"/>
<circle cx="522.6" cy="518.7" r="1.65" fill="#1566b5"/>
<circle cx="526.9" cy="520.2" r="1.65" fill="#1566b5"/>
<circle cx="535.4" cy="517.6" r="1.65" fill="#1566b5"/>
<circle cx="532.5" cy="520.5" r="1.65" fill="#1566b5"/>
<circle cx="544.5" cy="521.4" r="1.65" fill="#1566b5"/>
<circle cx="515.0" cy="522.2" r="1.65" fill="#1566b5"/>
<circle cx="520.8" cy="522.2" r="1.65" fill="#1566b5"/>
<circle cx="520.2" cy="524.0" r="1.65" fill="#1566b5"/>
<circle cx="522.6" cy="523.7" r="1.65" fill="#1566b5"/>
<circle cx="524.6" cy="523.1" r="1.65" fill="#1566b5"/>
<circle cx="526.6" cy="524.0" r="1.65" fill="#1566b5"/>
<circle cx="530.7" cy="525.4" r="1.65" fill="#1566b5"/>
<circle cx="538.3" cy="524.0" r="1.65" fill="#1566b5"/>
<circle cx="542.4" cy="523.7" r="1.65" fill="#1566b5"/>
<circle cx="547.4" cy="525.1" r="1.65" fill="#1566b5"/>
<circle cx="549.1" cy="526.0" r="1.65" fill="#1566b5"/>
<circle cx="522.0" cy="526.0" r="1.65" fill="#1566b5"/>
<circle cx="523.7" cy="527.2" r="1.65" fill="#1566b5"/>
<circle cx="528.7" cy="527.5" r="1.65" fill="#1566b5"/>
<circle cx="533.9" cy="526.3" r="1.65" fill="#1566b5"/>
<circle cx="537.4" cy="528.4" r="1.65" fill="#1566b5"/>
<circle cx="512.3" cy="528.4" r="1.65" fill="#1566b5"/>
<circle cx="517.9" cy="528.4" r="1.65" fill="#1566b5"/>
<circle cx="523.4" cy="529.5" r="1.65" fill="#1566b5"/>
<circle cx="535.7" cy="529.5" r="1.65" fill="#1566b5"/>
<circle cx="531.9" cy="530.7" r="1.65" fill="#1566b5"/>
<circle cx="545.6" cy="531.9" r="1.65" fill="#1566b5"/>
<circle cx="547.4" cy="530.7" r="1.65" fill="#1566b5"/>
<circle cx="517.6" cy="531.6" r="1.65" fill="#1566b5"/>
<circle cx="521.7" cy="533.0" r="1.65" fill="#1566b5"/>
<circle cx="535.7" cy="532.4" r="1.65" fill="#1566b5"/>
<circle cx="538.6" cy="532.4" r="1.65" fill="#1566b5"/>
<circle cx="533.4" cy="533.6" r="1.65" fill="#1566b5"/>
<circle cx="516.4" cy="533.9" r="1.65" fill="#1566b5"/>
<circle cx="517.0" cy="534.7" r="1.65" fill="#1566b5"/>
<circle cx="519.3" cy="535.5" r="1.65" fill="#1566b5"/>
<circle cx="521.4" cy="537.0" r="1.65" fill="#1566b5"/>
<circle cx="516.7" cy="536.7" r="1.65" fill="#1566b5"/>
<circle cx="513.8" cy="538.2" r="1.65" fill="#1566b5"/>
<circle cx="532.8" cy="537.9" r="1.65" fill="#1566b5"/>
<circle cx="538.6" cy="536.4" r="1.65" fill="#1566b5"/>
<circle cx="543.6" cy="543.5" r="1.65" fill="#1566b5"/>
<circle cx="555.8" cy="505.2" r="1.65" fill="#1566b5"/>
<circle cx="566.2" cy="509.5" r="1.65" fill="#1566b5"/>
<circle cx="569.0" cy="512.5" r="1.65" fill="#1566b5"/>
<circle cx="576.9" cy="508.9" r="1.65" fill="#1566b5"/>
<circle cx="578.2" cy="512.3" r="1.65" fill="#1566b5"/>
<circle cx="583.5" cy="514.7" r="1.65" fill="#1566b5"/>
<circle cx="594.1" cy="509.2" r="1.65" fill="#1566b5"/>
<circle cx="554.1" cy="521.6" r="1.65" fill="#1566b5"/>
<circle cx="555.9" cy="522.4" r="1.65" fill="#1566b5"/>
<circle cx="551.2" cy="527.5" r="1.65" fill="#1566b5"/>
<circle cx="552.3" cy="528.9" r="1.65" fill="#1566b5"/>
<circle cx="555.6" cy="529.3" r="1.65" fill="#1566b5"/>
<circle cx="561.2" cy="528.4" r="1.65" fill="#1566b5"/>
<circle cx="566.3" cy="530.4" r="1.65" fill="#1566b5"/>
<circle cx="572.0" cy="530.5" r="1.65" fill="#1566b5"/>
<circle cx="575.5" cy="531.4" r="1.65" fill="#1566b5"/>
<circle cx="632.4" cy="494.3" r="1.65" fill="#1566b5"/>
<circle cx="652.1" cy="496.9" r="1.65" fill="#1566b5"/>
<circle cx="544.7" cy="532.4" r="1.65" fill="#1566b5"/>
<circle cx="551.7" cy="537.2" r="1.65" fill="#1566b5"/>
<circle cx="508.1" cy="518.8" r="1.65" fill="#1566b5"/>
<circle cx="451.6" cy="546.2" r="1.65" fill="#1566b5"/>
<circle cx="416.1" cy="498.3" r="1.65" fill="#aa0c17"/>
<circle cx="426.2" cy="490.6" r="1.65" fill="#aa0c17"/>
<circle cx="428.5" cy="487.5" r="1.65" fill="#aa0c17"/>
<circle cx="433.1" cy="484.5" r="1.65" fill="#aa0c17"/>
<circle cx="434.6" cy="481.0" r="1.65" fill="#aa0c17"/>
<circle cx="437.5" cy="501.8" r="1.65" fill="#aa0c17"/>
<circle cx="444.1" cy="485.9" r="1.65" fill="#aa0c17"/>
<circle cx="449.5" cy="487.2" r="1.65" fill="#aa0c17"/>
<circle cx="451.9" cy="478.8" r="1.65" fill="#aa0c17"/>
<circle cx="452.8" cy="492.0" r="1.65" fill="#aa0c17"/>
<circle cx="454.6" cy="499.9" r="1.65" fill="#aa0c17"/>
<circle cx="422.3" cy="518.8" r="1.65" fill="#aa0c17"/>
<circle cx="470.7" cy="464.7" r="1.65" fill="#aa0c17"/>
<circle cx="471.9" cy="470.6" r="1.65" fill="#aa0c17"/>
<circle cx="466.2" cy="481.3" r="1.65" fill="#aa0c17"/>
<circle cx="470.8" cy="484.2" r="1.65" fill="#aa0c17"/>
<circle cx="477.6" cy="483.2" r="1.65" fill="#aa0c17"/>
<circle cx="483.6" cy="481.9" r="1.65" fill="#aa0c17"/>
<circle cx="489.4" cy="473.5" r="1.65" fill="#aa0c17"/>
<circle cx="490.0" cy="475.0" r="1.65" fill="#aa0c17"/>
<circle cx="493.4" cy="474.2" r="1.65" fill="#aa0c17"/>
<circle cx="496.4" cy="475.9" r="1.65" fill="#aa0c17"/>
<circle cx="491.2" cy="479.7" r="1.65" fill="#aa0c17"/>
<circle cx="487.6" cy="481.3" r="1.65" fill="#aa0c17"/>
<circle cx="490.1" cy="482.3" r="1.65" fill="#aa0c17"/>
<circle cx="498.9" cy="480.4" r="1.65" fill="#aa0c17"/>
<circle cx="488.0" cy="484.8" r="1.65" fill="#aa0c17"/>
<circle cx="459.1" cy="492.5" r="1.65" fill="#aa0c17"/>
<circle cx="465.0" cy="491.4" r="1.65" fill="#aa0c17"/>
<circle cx="465.7" cy="493.2" r="1.65" fill="#aa0c17"/>
<circle cx="469.9" cy="489.2" r="1.65" fill="#aa0c17"/>
<circle cx="469.3" cy="494.3" r="1.65" fill="#aa0c17"/>
<circle cx="474.5" cy="492.1" r="1.65" fill="#aa0c17"/>
<circle cx="477.0" cy="488.5" r="1.65" fill="#aa0c17"/>
<circle cx="479.6" cy="489.6" r="1.65" fill="#aa0c17"/>
<circle cx="473.4" cy="496.5" r="1.65" fill="#aa0c17"/>
<circle cx="491.6" cy="488.3" r="1.65" fill="#aa0c17"/>
<circle cx="488.0" cy="492.5" r="1.65" fill="#aa0c17"/>
<circle cx="494.2" cy="492.5" r="1.65" fill="#aa0c17"/>
<circle cx="488.0" cy="495.8" r="1.65" fill="#aa0c17"/>
<circle cx="461.3" cy="497.8" r="1.65" fill="#aa0c17"/>
<circle cx="492.0" cy="499.4" r="1.65" fill="#aa0c17"/>
<circle cx="509.6" cy="455.0" r="1.65" fill="#aa0c17"/>
<circle cx="529.3" cy="458.8" r="1.65" fill="#aa0c17"/>
<circle cx="522.9" cy="461.6" r="1.65" fill="#aa0c17"/>
<circle cx="528.9" cy="464.5" r="1.65" fill="#aa0c17"/>
<circle cx="515.3" cy="465.8" r="1.65" fill="#aa0c17"/>
<circle cx="515.3" cy="471.9" r="1.65" fill="#aa0c17"/>
<circle cx="540.6" cy="470.5" r="1.65" fill="#aa0c17"/>
<circle cx="524.9" cy="474.6" r="1.65" fill="#aa0c17"/>
<circle cx="509.6" cy="475.4" r="1.65" fill="#aa0c17"/>
<circle cx="508.1" cy="478.0" r="1.65" fill="#aa0c17"/>
<circle cx="514.6" cy="477.3" r="1.65" fill="#aa0c17"/>
<circle cx="535.9" cy="474.1" r="1.65" fill="#aa0c17"/>
<circle cx="533.0" cy="476.2" r="1.65" fill="#aa0c17"/>
<circle cx="538.1" cy="476.2" r="1.65" fill="#aa0c17"/>
<circle cx="531.1" cy="478.4" r="1.65" fill="#aa0c17"/>
<circle cx="535.5" cy="480.2" r="1.65" fill="#aa0c17"/>
<circle cx="542.4" cy="479.1" r="1.65" fill="#aa0c17"/>
<circle cx="530.4" cy="481.6" r="1.65" fill="#aa0c17"/>
<circle cx="533.7" cy="482.7" r="1.65" fill="#aa0c17"/>
<circle cx="540.6" cy="483.1" r="1.65" fill="#aa0c17"/>
<circle cx="500.8" cy="482.9" r="1.65" fill="#aa0c17"/>
<circle cx="506.7" cy="484.9" r="1.65" fill="#aa0c17"/>
<circle cx="512.5" cy="485.3" r="1.65" fill="#aa0c17"/>
<circle cx="516.9" cy="484.9" r="1.65" fill="#aa0c17"/>
<circle cx="526.8" cy="484.3" r="1.65" fill="#aa0c17"/>
<circle cx="538.1" cy="485.8" r="1.65" fill="#aa0c17"/>
<circle cx="501.6" cy="487.1" r="1.65" fill="#aa0c17"/>
<circle cx="503.0" cy="490.0" r="1.65" fill="#aa0c17"/>
<circle cx="506.3" cy="488.2" r="1.65" fill="#aa0c17"/>
<circle cx="511.8" cy="488.9" r="1.65" fill="#aa0c17"/>
<circle cx="510.3" cy="490.8" r="1.65" fill="#aa0c17"/>
<circle cx="518.4" cy="488.2" r="1.65" fill="#aa0c17"/>
<circle cx="527.1" cy="490.4" r="1.65" fill="#aa0c17"/>
<circle cx="534.1" cy="488.6" r="1.65" fill="#aa0c17"/>
<circle cx="502.3" cy="494.4" r="1.65" fill="#aa0c17"/>
<circle cx="509.6" cy="494.4" r="1.65" fill="#aa0c17"/>
<circle cx="518.4" cy="494.4" r="1.65" fill="#aa0c17"/>
<circle cx="494.4" cy="493.6" r="1.65" fill="#aa0c17"/>
<circle cx="503.9" cy="501.0" r="1.65" fill="#aa0c17"/>
<circle cx="489.5" cy="502.8" r="1.65" fill="#aa0c17"/>
<circle cx="496.2" cy="505.3" r="1.65" fill="#aa0c17"/>
<circle cx="480.9" cy="507.2" r="1.65" fill="#aa0c17"/>
<circle cx="481.3" cy="508.8" r="1.65" fill="#aa0c17"/>
<circle cx="466.7" cy="525.4" r="1.65" fill="#aa0c17"/>
<circle cx="473.6" cy="525.4" r="1.65" fill="#aa0c17"/>
<circle cx="547.2" cy="500.3" r="1.65" fill="#aa0c17"/>
<circle cx="566.9" cy="507.0" r="1.65" fill="#aa0c17"/>
<circle cx="597.4" cy="482.6" r="1.65" fill="#aa0c17"/>
<circle cx="611.7" cy="488.5" r="1.65" fill="#aa0c17"/>
<circle cx="610.9" cy="496.4" r="1.65" fill="#aa0c17"/>
<circle cx="630.4" cy="480.8" r="1.65" fill="#aa0c17"/>
<circle cx="503.2" cy="435.7" r="1.65" fill="#aa0c17"/>
<circle cx="588.8" cy="410.8" r="1.65" fill="#aa0c17"/>
<circle cx="552.7" cy="433.8" r="1.65" fill="#aa0c17"/>
<circle cx="572.8" cy="437.5" r="1.65" fill="#aa0c17"/>
<circle cx="552.6" cy="443.3" r="1.65" fill="#aa0c17"/>
<circle cx="560.7" cy="448.2" r="1.65" fill="#aa0c17"/>
<circle cx="559.7" cy="453.7" r="1.65" fill="#aa0c17"/>
<circle cx="579.8" cy="455.4" r="1.65" fill="#aa0c17"/>
<circle cx="584.5" cy="459.4" r="1.65" fill="#aa0c17"/>
<circle cx="549.5" cy="467.1" r="1.65" fill="#aa0c17"/>
<circle cx="561.9" cy="468.3" r="1.65" fill="#aa0c17"/>
<circle cx="589.3" cy="469.1" r="1.65" fill="#aa0c17"/>
<circle cx="562.3" cy="471.4" r="1.65" fill="#aa0c17"/>
<circle cx="564.1" cy="471.0" r="1.65" fill="#aa0c17"/>
<circle cx="578.5" cy="471.4" r="1.65" fill="#aa0c17"/>
<circle cx="580.5" cy="472.7" r="1.65" fill="#aa0c17"/>
<circle cx="547.0" cy="480.6" r="1.65" fill="#aa0c17"/>
<circle cx="548.8" cy="482.3" r="1.65" fill="#aa0c17"/>
<circle cx="546.6" cy="485.4" r="1.65" fill="#aa0c17"/>
<circle cx="554.0" cy="476.2" r="1.65" fill="#aa0c17"/>
<circle cx="554.5" cy="478.8" r="1.65" fill="#aa0c17"/>
<circle cx="558.8" cy="479.1" r="1.65" fill="#aa0c17"/>
<circle cx="553.8" cy="486.1" r="1.65" fill="#aa0c17"/>
<circle cx="572.2" cy="481.2" r="1.65" fill="#aa0c17"/>
<circle cx="581.2" cy="480.0" r="1.65" fill="#aa0c17"/>
<circle cx="584.2" cy="478.4" r="1.65" fill="#aa0c17"/>
<circle cx="588.3" cy="487.0" r="1.65" fill="#aa0c17"/>
<circle cx="574.9" cy="492.8" r="1.65" fill="#aa0c17"/>
<circle cx="541.3" cy="498.4" r="1.65" fill="#aa0c17"/>
<circle cx="617.8" cy="430.4" r="1.65" fill="#aa0c17"/>
<circle cx="636.0" cy="432.3" r="1.65" fill="#aa0c17"/>
<circle cx="601.2" cy="438.4" r="1.65" fill="#aa0c17"/>
<circle cx="629.9" cy="447.0" r="1.65" fill="#aa0c17"/>
<circle cx="645.3" cy="446.2" r="1.65" fill="#aa0c17"/>
<circle cx="598.8" cy="449.1" r="1.65" fill="#aa0c17"/>
<circle cx="606.9" cy="453.4" r="1.65" fill="#aa0c17"/>
<circle cx="594.3" cy="457.7" r="1.65" fill="#aa0c17"/>
<circle cx="607.4" cy="457.5" r="1.65" fill="#aa0c17"/>
<circle cx="603.1" cy="463.0" r="1.65" fill="#aa0c17"/>
<circle cx="650.4" cy="461.9" r="1.65" fill="#aa0c17"/>
<circle cx="654.2" cy="461.9" r="1.65" fill="#aa0c17"/>
<circle cx="601.6" cy="473.9" r="1.65" fill="#aa0c17"/>
<circle cx="513.6" cy="496.7" r="1.65" fill="#aa0c17"/>
<circle cx="519.1" cy="496.7" r="1.65" fill="#aa0c17"/>
<circle cx="531.9" cy="495.3" r="1.65" fill="#aa0c17"/>
<circle cx="534.4" cy="495.7" r="1.65" fill="#aa0c17"/>
<circle cx="526.4" cy="499.6" r="1.65" fill="#aa0c17"/>
<circle cx="524.2" cy="503.5" r="1.65" fill="#aa0c17"/>
<line x1="98.1" y1="513.2" x2="276.9" y2="428.8" stroke="#a0141e" stroke-width="1.2" stroke-dasharray="1.1 1.1"/>
<line x1="98.1" y1="542.9" x2="277.6" y2="505.3" stroke="#1f68ad" stroke-width="1.2" stroke-dasharray="1.1 1.1"/>
<line x1="415.4" y1="504.3" x2="661.2" y2="450.5" stroke="#9c1420" stroke-width="1.2" stroke-dasharray="1.1 1.1"/>
<line x1="451.4" y1="538.5" x2="661.2" y2="506.3" stroke="#1f68ad" stroke-width="1.2" stroke-dasharray="1.1 1.1"/>
<circle cx="262.2" cy="240.3" r="1.65" fill="#a00d16"/>
<circle cx="262.2" cy="260.4" r="1.65" fill="#169e5c"/>
<circle cx="612.5" cy="240.1" r="1.65" fill="#a00d16"/>
<circle cx="612.5" cy="260.4" r="1.65" fill="#169e5c"/>
<circle cx="249.6" cy="585.1" r="1.65" fill="#aa0c17"/>
<circle cx="249.6" cy="601.5" r="1.65" fill="#1566b5"/>
<circle cx="602.3" cy="584.7" r="1.65" fill="#aa0c17"/>
<circle cx="602.3" cy="601.1" r="1.65" fill="#1566b5"/>
<g class="t">
<text x="47.70" y="294.80" font-family="&quot;Liberation Serif&quot;, serif" font-size="8" text-anchor="middle" fill="#222">0</text>
<text x="40.60" y="285.00" font-family="&quot;Liberation Serif&quot;, serif" font-size="8" text-anchor="end" fill="#222">0</text>
<text x="91.35" y="294.80" font-family="&quot;Liberation Serif&quot;, serif" font-size="8" text-anchor="middle" fill="#222">1</text>
<text x="40.60" y="247.52" font-family="&quot;Liberation Serif&quot;, serif" font-size="8" text-anchor="end" fill="#222">1</text>
<text x="135.00" y="294.80" font-family="&quot;Liberation Serif&quot;, serif" font-size="8" text-anchor="middle" fill="#222">2</text>
<text x="40.60" y="210.04" font-family="&quot;Liberation Serif&quot;, serif" font-size="8" text-anchor="end" fill="#222">2</text>
<text x="178.65" y="294.80" font-family="&quot;Liberation Serif&quot;, serif" font-size="8" text-anchor="middle" fill="#222">3</text>
<text x="40.60" y="172.56" font-family="&quot;Liberation Serif&quot;, serif" font-size="8" text-anchor="end" fill="#222">3</text>
<text x="222.30" y="294.80" font-family="&quot;Liberation Serif&quot;, serif" font-size="8" text-anchor="middle" fill="#222">4</text>
<text x="40.60" y="135.08" font-family="&quot;Liberation Serif&quot;, serif" font-size="8" text-anchor="end" fill="#222">4</text>
<text x="265.95" y="294.80" font-family="&quot;Liberation Serif&quot;, serif" font-size="8" text-anchor="middle" fill="#222">5</text>
<text x="40.60" y="97.60" font-family="&quot;Liberation Serif&quot;, serif" font-size="8" text-anchor="end" fill="#222">5</text>
<text x="309.60" y="294.80" font-family="&quot;Liberation Serif&quot;, serif" font-size="8" text-anchor="middle" fill="#222">6</text>
<text x="40.60" y="60.12" font-family="&quot;Liberation Serif&quot;, serif" font-size="8" text-anchor="end" fill="#222">6</text>
<text x="397.30" y="297.80" font-family="&quot;Liberation Serif&quot;, serif" font-size="8" text-anchor="middle" fill="#222">0</text>
<text x="390.40" y="287.60" font-family="&quot;Liberation Serif&quot;, serif" font-size="8" text-anchor="end" fill="#222">0</text>
<text x="441.32" y="297.80" font-family="&quot;Liberation Serif&quot;, serif" font-size="8" text-anchor="middle" fill="#222">1</text>
<text x="390.40" y="249.68" font-family="&quot;Liberation Serif&quot;, serif" font-size="8" text-anchor="end" fill="#222">1</text>
<text x="485.34" y="297.80" font-family="&quot;Liberation Serif&quot;, serif" font-size="8" text-anchor="middle" fill="#222">2</text>
<text x="390.40" y="211.76" font-family="&quot;Liberation Serif&quot;, serif" font-size="8" text-anchor="end" fill="#222">2</text>
<text x="529.36" y="297.80" font-family="&quot;Liberation Serif&quot;, serif" font-size="8" text-anchor="middle" fill="#222">3</text>
<text x="390.40" y="173.84" font-family="&quot;Liberation Serif&quot;, serif" font-size="8" text-anchor="end" fill="#222">3</text>
<text x="573.38" y="297.80" font-family="&quot;Liberation Serif&quot;, serif" font-size="8" text-anchor="middle" fill="#222">4</text>
<text x="390.40" y="135.92" font-family="&quot;Liberation Serif&quot;, serif" font-size="8" text-anchor="end" fill="#222">4</text>
<text x="617.40" y="297.80" font-family="&quot;Liberation Serif&quot;, serif" font-size="8" text-anchor="middle" fill="#222">5</text>
<text x="390.40" y="98.00" font-family="&quot;Liberation Serif&quot;, serif" font-size="8" text-anchor="end" fill="#222">5</text>
<text x="661.42" y="297.80" font-family="&quot;Liberation Serif&quot;, serif" font-size="8" text-anchor="middle" fill="#222">6</text>
<text x="390.40" y="60.08" font-family="&quot;Liberation Serif&quot;, serif" font-size="8" text-anchor="end" fill="#222">6</text>
<text x="45.40" y="642.70" font-family="&quot;Liberation Serif&quot;, serif" font-size="8" text-anchor="middle" fill="#222">0</text>
<text x="38.30" y="632.10" font-family="&quot;Liberation Serif&quot;, serif" font-size="8" text-anchor="end" fill="#222">0</text>
<text x="82.79" y="642.70" font-family="&quot;Liberation Serif&quot;, serif" font-size="8" text-anchor="middle" fill="#222">1</text>
<text x="38.30" y="595.10" font-family="&quot;Liberation Serif&quot;, serif" font-size="8" text-anchor="end" fill="#222">1</text>
<text x="120.18" y="642.70" font-family="&quot;Liberation Serif&quot;, serif" font-size="8" text-anchor="middle" fill="#222">2</text>
<text x="38.30" y="558.10" font-family="&quot;Liberation Serif&quot;, serif" font-size="8" text-anchor="end" fill="#222">2</text>
<text x="157.57" y="642.70" font-family="&quot;Liberation Serif&quot;, serif" font-size="8" text-anchor="middle" fill="#222">3</text>
<text x="38.30" y="521.10" font-family="&quot;Liberation Serif&quot;, serif" font-size="8" text-anchor="end" fill="#222">3</text>
<text x="194.96" y="642.70" font-family="&quot;Liberation Serif&quot;, serif" font-size="8" text-anchor="middle" fill="#222">4</text>
<text x="38.30" y="484.10" font-family="&quot;Liberation Serif&quot;, serif" font-size="8" text-anchor="end" fill="#222">4</text>
<text x="232.35" y="642.70" font-family="&quot;Liberation Serif&quot;, serif" font-size="8" text-anchor="middle" fill="#222">5</text>
<text x="38.30" y="447.10" font-family="&quot;Liberation Serif&quot;, serif" font-size="8" text-anchor="end" fill="#222">5</text>
<text x="269.74" y="642.70" font-family="&quot;Liberation Serif&quot;, serif" font-size="8" text-anchor="middle" fill="#222">6</text>
<text x="38.30" y="410.10" font-family="&quot;Liberation Serif&quot;, serif" font-size="8" text-anchor="end" fill="#222">6</text>
<text x="307.13" y="642.70" font-family="&quot;Liberation Serif&quot;, serif" font-size="8" text-anchor="middle" fill="#222">7</text>
<text x="38.30" y="373.10" font-family="&quot;Liberation Serif&quot;, serif" font-size="8" text-anchor="end" fill="#222">7</text>
<text x="398.50" y="642.50" font-family="&quot;Liberation Serif&quot;, serif" font-size="8" text-anchor="middle" fill="#222">0</text>
<text x="391.80" y="632.20" font-family="&quot;Liberation Serif&quot;, serif" font-size="8" text-anchor="end" fill="#222">0</text>
<text x="436.08" y="642.50" font-family="&quot;Liberation Serif&quot;, serif" font-size="8" text-anchor="middle" fill="#222">1</text>
<text x="391.80" y="595.19" font-family="&quot;Liberation Serif&quot;, serif" font-size="8" text-anchor="end" fill="#222">1</text>
<text x="473.66" y="642.50" font-family="&quot;Liberation Serif&quot;, serif" font-size="8" text-anchor="middle" fill="#222">2</text>
<text x="391.80" y="558.18" font-family="&quot;Liberation Serif&quot;, serif" font-size="8" text-anchor="end" fill="#222">2</text>
<text x="511.24" y="642.50" font-family="&quot;Liberation Serif&quot;, serif" font-size="8" text-anchor="middle" fill="#222">3</text>
<text x="391.80" y="521.17" font-family="&quot;Liberation Serif&quot;, serif" font-size="8" text-anchor="end" fill="#222">3</text>
<text x="548.82" y="642.50" font-family="&quot;Liberation Serif&quot;, serif" font-size="8" text-anchor="middle" fill="#222">4</text>
<text x="391.80" y="484.16" font-family="&quot;Liberation Serif&quot;, serif" font-size="8" text-anchor="end" fill="#222">4</text>
<text x="586.40" y="642.50" font-family="&quot;Liberation Serif&quot;, serif" font-size="8" text-anchor="middle" fill="#222">5</text>
<text x="391.80" y="447.15" font-family="&quot;Liberation Serif&quot;, serif" font-size="8" text-anchor="end" fill="#222">5</text>
<text x="623.98" y="642.50" font-family="&quot;Liberation Serif&quot;, serif" font-size="8" text-anchor="middle" fill="#222">6</text>
<text x="391.80" y="410.14" font-family="&quot;Liberation Serif&quot;, serif" font-size="8" text-anchor="end" fill="#222">6</text>
<text x="661.56" y="642.50" font-family="&quot;Liberation Serif&quot;, serif" font-size="8" text-anchor="middle" fill="#222">7</text>
<text x="391.80" y="373.13" font-family="&quot;Liberation Serif&quot;, serif" font-size="8" text-anchor="end" fill="#222">7</text>
<text x="43.0" y="30.9" font-family="&quot;Liberation Serif&quot;, serif" font-size="17.6" fill="#111" stroke="#111" stroke-width="0.1">A</text>
<text x="343.8" y="30.9" font-family="&quot;Liberation Serif&quot;, serif" font-size="17.6" fill="#111" stroke="#111" stroke-width="0.1">B</text>
<text x="43.0" y="345.2" font-family="&quot;Liberation Serif&quot;, serif" font-size="17.6" fill="#111" stroke="#111" stroke-width="0.1">C</text>
<text x="343.8" y="344.9" font-family="&quot;Liberation Serif&quot;, serif" font-size="17.6" fill="#111" stroke="#111" stroke-width="0.1">D</text>
<text x="178.6" y="311.2" font-family="&quot;Liberation Serif&quot;, serif" font-size="10" text-anchor="middle" fill="#222" xml:space="preserve">SNP density in LOT region</text>
<text transform="translate(30.6,169.2) rotate(-90)" x="0" y="0" font-family="&quot;Liberation Serif&quot;, serif" font-size="10" text-anchor="middle" fill="#222">SNP density in HOT region</text>
<text x="529.4" y="313.5" font-family="&quot;Liberation Serif&quot;, serif" font-size="10" text-anchor="middle" fill="#222" xml:space="preserve">SNP density in cancer LOT region</text>
<text transform="translate(380.8,170.2) rotate(-90)" x="0" y="0" font-family="&quot;Liberation Serif&quot;, serif" font-size="10" text-anchor="middle" fill="#222">SNP density in cancer HOT region</text>
<text x="175.9" y="658.0" font-family="&quot;Liberation Serif&quot;, serif" font-size="10" text-anchor="middle" fill="#222" xml:space="preserve">SNP density in TFBS</text>
<text transform="translate(28.2,499.5) rotate(-90)" x="0" y="0" font-family="&quot;Liberation Serif&quot;, serif" font-size="10" text-anchor="middle" fill="#222">SNP density in HOT/LOT region</text>
<text x="530.0" y="657.8" font-family="&quot;Liberation Serif&quot;, serif" font-size="10" text-anchor="middle" fill="#222" xml:space="preserve">SNP density in  HOT/LOT TFBS</text>
<text transform="translate(381.9,499.5) rotate(-90)" x="0" y="0" font-family="&quot;Liberation Serif&quot;, serif" font-size="10" text-anchor="middle" fill="#222">SNP density in HOT/LOT region</text>
<text transform="translate(98.55,442.8) scale(1,1.18)" font-family="&quot;Liberation Serif&quot;, serif" font-size="6.5" text-anchor="middle" fill="#222">R = 0.6914</text>
<text transform="translate(98.55,450.5) scale(1,1.18)" font-family="&quot;Liberation Serif&quot;, serif" font-size="6.5" text-anchor="middle" fill="#222">p value = 3.24E-24</text>
<text transform="translate(253.75,557.9) scale(1,1.18)" font-family="&quot;Liberation Serif&quot;, serif" font-size="6.5" text-anchor="middle" fill="#222">R = 0.6408</text>
<text transform="translate(253.75,564.6) scale(1,1.18)" font-family="&quot;Liberation Serif&quot;, serif" font-size="6.5" text-anchor="middle" fill="#222">p value = 3.52E-19</text>
<text transform="translate(446.35,442.5) scale(1,1.18)" font-family="&quot;Liberation Serif&quot;, serif" font-size="6.5" text-anchor="middle" fill="#222">R = 0.6314</text>
<text transform="translate(446.35,450.2) scale(1,1.18)" font-family="&quot;Liberation Serif&quot;, serif" font-size="6.5" text-anchor="middle" fill="#222">p value=1.66E-18</text>
<text transform="translate(621.95,544.9) scale(1,1.18)" font-family="&quot;Liberation Serif&quot;, serif" font-size="6.5" text-anchor="middle" fill="#222">R = 0.5413</text>
<text transform="translate(621.95,551.9) scale(1,1.18)" font-family="&quot;Liberation Serif&quot;, serif" font-size="6.5" text-anchor="middle" fill="#222">p value = 4.21E-13</text>
<text transform="translate(265.2,242.8) scale(1,1.2)" font-family="&quot;Liberation Serif&quot;, serif" font-size="7.2" fill="#222">Cancer</text>
<text transform="translate(265.2,262.7) scale(1,1.2)" font-family="&quot;Liberation Serif&quot;, serif" font-size="7.2" fill="#222">Normal</text>
<text transform="translate(615.6,242.8) scale(1,1.2)" font-family="&quot;Liberation Serif&quot;, serif" font-size="7.2" fill="#222">Cancer</text>
<text transform="translate(615.6,262.6) scale(1,1.2)" font-family="&quot;Liberation Serif&quot;, serif" font-size="7.2" fill="#222">Normal</text>
<text transform="translate(252.8,587.6) scale(1,1.2)" font-family="&quot;Liberation Serif&quot;, serif" font-size="7.2" fill="#222">HOT region</text>
<text transform="translate(252.8,603.8) scale(1,1.2)" font-family="&quot;Liberation Serif&quot;, serif" font-size="7.2" fill="#222">LOT region</text>
<text transform="translate(605.6,587.0) scale(1,1.2)" font-family="&quot;Liberation Serif&quot;, serif" font-size="7.2" fill="#222">HOT region</text>
<text transform="translate(605.6,603.4) scale(1,1.2)" font-family="&quot;Liberation Serif&quot;, serif" font-size="7.2" fill="#222">LOT region</text>
</g>
</svg></body></html>
